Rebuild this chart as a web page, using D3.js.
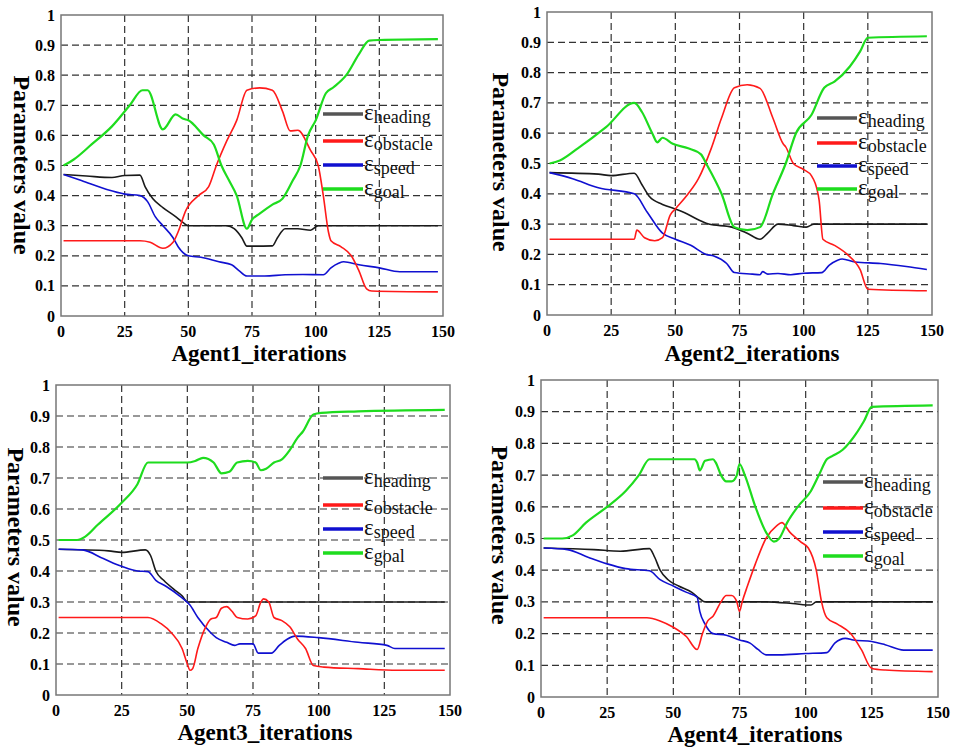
<!DOCTYPE html>
<html>
<head>
<meta charset="utf-8">
<script src="https://cdn.jsdelivr.net/npm/d3@7"></script>
<style>
  body { margin: 0; background: #fff; }
  text { font-family: "Liberation Serif", "Times New Roman", Times, serif; }
</style>
</head>
<body>
<svg id="chart" width="962" height="749"></svg>
<script>
// tick labels
var xTicks = [0, 25, 50, 75, 100, 125, 150];
var yTicks = [0, 0.1, 0.2, 0.3, 0.4, 0.5, 0.6, 0.7, 0.8, 0.9, 1];
var seriesNames = ["heading", "obstacle", "speed", "goal"];
var xLabels = ["Agent1_iterations", "Agent2_iterations", "Agent3_iterations", "Agent4_iterations"];

// agent 1
var a1Heading = [[1,.47],[10,.465],[20,.46],[25,.467],[31,.468],[33,.43],[36,.39],[40,.36],[45,.33],[48,.31],[50,.3],[65,.3],[68,.29],[71,.26],[73,.232],[83,.233],[85,.26],[88,.29],[93,.29],[98,.285],[101,.3],[148,.3]];
var a1Obstacle = [[1,.25],[31,.25],[35,.245],[40,.225],[44,.245],[46,.28],[49,.35],[54,.4],[58,.43],[61,.5],[65,.58],[69,.65],[73,.75],[78,.758],[83,.75],[87,.68],[90,.615],[93,.617],[98,.55],[101,.5],[103,.4],[105,.28],[106,.25],[110,.23],[114,.2],[117,.15],[120,.09],[122,.083],[148,.08]];
var a1Speed = [[1,.47],[8,.45],[18,.42],[25,.405],[31,.4],[34,.38],[37,.33],[40,.3],[44,.26],[46,.23],[50,.2],[55,.195],[62,.18],[67,.17],[70,.15],[73,.133],[80,.133],[88,.137],[95,.138],[103,.137],[106,.16],[109,.175],[111,.18],[117,.17],[125,.16],[133,.147],[148,.147]];
var a1Goal = [[1,.5],[5,.52],[12,.57],[20,.63],[27,.7],[32,.75],[34,.75],[40,.62],[45,.67],[48,.655],[50,.65],[56,.6],[60,.57],[63,.5],[66,.45],[69,.4],[73,.29],[75,.32],[78,.34],[83,.37],[87,.39],[91,.45],[94,.5],[97,.6],[100,.65],[104,.74],[107,.76],[112,.8],[117,.87],[121,.915],[125,.917],[148,.92]];

// agent 2
var a2Heading = [[1,.47],[20,.465],[25,.46],[34,.468],[37,.43],[40,.39],[45,.365],[50,.35],[53,.34],[60,.31],[63,.3],[72,.29],[78,.27],[83,.25],[86,.27],[90,.3],[96,.295],[101,.29],[104,.3],[148,.3]];
var a2Obstacle = [[1,.25],[34,.25],[35,.28],[38,.255],[42,.245],[45,.255],[48,.33],[50,.35],[55,.4],[59,.45],[64,.55],[68,.65],[73,.75],[78,.76],[83,.748],[88,.65],[92,.565],[93,.555],[96,.5],[100,.48],[103,.46],[106,.38],[107.5,.25],[112,.23],[117,.2],[122,.15],[125,.085],[148,.08]];
var a2Speed = [[1,.47],[10,.45],[20,.42],[34,.4],[39,.34],[45,.27],[50,.25],[56,.23],[62,.2],[65,.195],[70,.17],[73,.14],[80,.135],[83,.133],[84,.143],[86,.135],[90,.137],[95,.133],[100,.138],[107,.14],[110,.165],[113,.18],[115,.185],[120,.175],[130,.17],[140,.16],[148,.15]];
var a2Goal = [[1,.5],[5,.51],[12,.55],[23,.62],[34,.7],[37,.67],[41,.6],[43,.57],[45,.585],[49,.565],[55,.55],[60,.53],[62,.5],[68,.4],[73,.29],[78,.28],[83,.29],[88,.4],[93,.5],[97,.6],[103,.66],[108,.75],[112,.77],[118,.82],[122,.87],[125,.915],[148,.92]];

// agent 3
var a3Heading = [[1,.47],[20,.465],[25,.46],[34,.468],[36,.45],[38,.4],[41,.37],[45,.34],[48,.32],[50,.3],[148,.3]];
var a3Obstacle = [[1,.25],[35,.25],[40,.23],[44,.2],[48,.15],[50,.1],[51,.08],[52,.085],[54,.15],[57,.22],[59,.245],[61,.25],[63,.28],[65,.285],[67,.27],[69,.25],[73,.245],[76,.255],[78,.3],[79,.31],[81,.3],[83,.25],[86,.24],[89,.22],[92,.18],[95,.15],[98,.095],[102,.09],[115,.085],[130,.08],[148,.08]];
var a3Speed = [[1,.47],[10,.468],[18,.44],[25,.415],[31,.4],[35,.398],[38,.37],[42,.35],[47,.32],[51,.29],[54,.25],[59,.2],[61,.185],[65,.17],[68,.16],[70,.165],[75,.165],[77,.135],[82,.135],[85,.16],[88,.18],[91,.19],[100,.185],[115,.17],[126,.16],[129,.15],[148,.15]];
var a3Goal = [[1,.5],[8,.5],[11,.51],[16,.55],[25,.62],[31,.68],[35,.75],[50,.75],[53,.755],[56,.765],[60,.75],[63,.715],[66,.72],[69,.75],[73,.755],[76,.75],[78,.725],[80,.73],[83,.75],[86,.76],[89,.79],[92,.83],[94,.85],[98,.905],[101,.91],[115,.915],[148,.92]];

// agent 4
var a4Heading = [[1,.47],[20,.465],[30,.46],[41,.468],[43,.44],[45,.4],[48,.37],[52,.35],[57,.33],[60,.31],[62,.3],[85,.3],[95,.295],[102,.29],[104,.3],[148,.3]];
var a4Obstacle = [[1,.25],[40,.25],[45,.24],[50,.22],[55,.19],[59,.15],[61,.2],[63,.24],[65,.255],[68,.3],[70,.32],[72,.32],[74,.3],[75,.27],[76,.3],[78,.35],[81,.42],[85,.5],[89,.54],[91,.55],[94,.52],[98,.49],[101,.47],[104,.4],[106,.3],[108,.25],[112,.23],[117,.2],[121,.15],[125,.09],[130,.085],[148,.08]];
var a4Speed = [[1,.47],[10,.465],[18,.44],[25,.42],[32,.405],[41,.398],[45,.37],[50,.35],[55,.33],[59,.315],[60,.27],[62,.23],[65,.2],[70,.195],[75,.18],[79,.17],[82,.15],[85,.133],[90,.133],[100,.137],[108,.14],[111,.17],[115,.185],[118,.18],[125,.175],[130,.165],[137,.148],[148,.148]];
var a4Goal = [[1,.5],[8,.5],[12,.51],[17,.55],[25,.6],[32,.65],[37,.7],[41,.75],[58,.75],[59,.74],[60,.715],[62,.745],[65,.75],[66,.74],[68,.7],[70,.68],[72,.68],[74,.7],[75,.735],[77,.7],[81,.6],[85,.52],[88,.49],[90,.5],[93,.55],[97,.6],[102,.65],[105,.7],[108,.75],[110,.76],[114,.78],[119,.83],[122,.87],[125,.915],[148,.92]];

var agents = [
  [a1Heading, a1Obstacle, a1Speed, a1Goal],
  [a2Heading, a2Obstacle, a2Speed, a2Goal],
  [a3Heading, a3Obstacle, a3Speed, a3Goal],
  [a4Heading, a4Obstacle, a4Speed, a4Goal]
];

// layout (pixel boxes of each plot, legend anchors, label spots)
var panels = [
  {l:61,  r:443, t:15,  b:316, legX:323, legY:[114,141,165,189], yl:[22,165],  xl:[259,361]},
  {l:547, r:932, t:12,  b:315, legX:817, legY:[118,143,166,189], yl:[501,162], xl:[752,361]},
  {l:56,  r:450, t:385, b:695, legX:323, legY:[478,505,529,553], yl:[16,537],  xl:[265,740]},
  {l:541, r:938, t:380, b:697, legX:823, legY:[482,508,532,556], yl:[500,535], xl:[755,742]}
];
var colors = ["#1a1a1a", "#ff1a1a", "#1010d0", "#1edc1e"];
var legColors = ["#555555", "#ff1a1a", "#1010d0", "#1edc1e"];
var widths = [1.6, 1.6, 1.6, 2.2];
var serif = "Liberation Serif, Times New Roman, serif";

var svg = d3.select("#chart");

panels.forEach(function(p, i){
  var x = d3.scaleLinear().domain([0, 150]).range([p.l, p.r]);
  var y = d3.scaleLinear().domain([0, 1]).range([p.b, p.t]);
  var g = svg.append("g").attr("font-family", serif);

  // grid
  g.selectAll(".vg").data(xTicks.slice(1, -1)).enter().append("line")
    .attr("x1", x).attr("x2", x).attr("y1", p.t).attr("y2", p.b)
    .attr("stroke", "#333").attr("stroke-width", 1.2).attr("stroke-dasharray", "7,4");
  g.selectAll(".hg").data(yTicks.slice(1, -1)).enter().append("line")
    .attr("y1", y).attr("y2", y).attr("x1", p.l).attr("x2", p.r)
    .attr("stroke", "#333").attr("stroke-width", 1.2).attr("stroke-dasharray", "7,4");

  // box
  g.append("rect").attr("x", p.l).attr("y", p.t)
    .attr("width", p.r - p.l).attr("height", p.b - p.t)
    .attr("fill", "none").attr("stroke", "#777").attr("stroke-width", 1.5);

  // tick labels
  g.selectAll(".xt").data(xTicks).enter().append("text")
    .attr("x", x).attr("y", p.b + 21)
    .attr("text-anchor", "middle").attr("font-weight", "bold").attr("font-size", 16)
    .attr("font-family", serif)
    .text(function(d){ return d; });
  g.selectAll(".yt").data(yTicks).enter().append("text")
    .attr("x", p.l - 6).attr("y", function(d){ return y(d) + 5.5; })
    .attr("text-anchor", "end").attr("font-weight", "bold").attr("font-size", 16)
    .attr("font-family", serif)
    .text(function(d){ return d; });

  // axis titles
  g.append("text")
    .attr("transform", "translate(" + p.yl[0] + "," + p.yl[1] + ") rotate(90)")
    .attr("text-anchor", "middle").attr("dy", "0.35em")
    .attr("font-weight", "bold").attr("font-size", 24)
    .attr("font-family", serif)
    .text("Parameters value");
  g.append("text")
    .attr("x", p.xl[0]).attr("y", p.xl[1])
    .attr("text-anchor", "middle").attr("font-weight", "bold").attr("font-size", 23)
    .attr("font-family", serif)
    .text(xLabels[i]);

  // lines
  var line = d3.line()
    .x(function(d){ return x(d[0]); })
    .y(function(d){ return y(d[1]); })
    .curve(d3.curveMonotoneX);
  // draw order: heading, speed, obstacle, goal
  [0, 2, 1, 3].forEach(function(k){
    g.append("path").datum(agents[i][k])
      .attr("d", line)
      .attr("fill", "none")
      .attr("stroke", colors[k])
      .attr("stroke-width", widths[k])
      .attr("stroke-linejoin", "round");
  });

  // legend
  seriesNames.forEach(function(name, k){
    var ly = p.legY[k];
    g.append("line")
      .attr("x1", p.legX).attr("x2", p.legX + 40)
      .attr("y1", ly).attr("y2", ly)
      .attr("stroke", legColors[k]).attr("stroke-width", 3.5);
    var t = g.append("text")
      .attr("x", p.legX + 41).attr("y", ly + 6)
      .attr("font-family", serif)
      .attr("fill", "#111");
    t.append("tspan").attr("font-size", 23).text("\u03B5");
    t.append("tspan").attr("font-size", 18).attr("dy", 3).text(name);
  });
});
</script>
</body>
</html>
